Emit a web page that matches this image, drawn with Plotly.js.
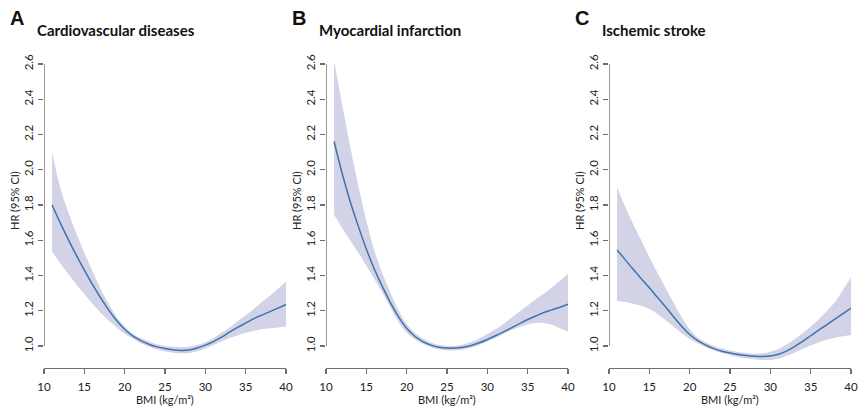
<!DOCTYPE html>
<html>
<head>
<meta charset="utf-8">
<script src="https://cdn.plot.ly/plotly-3.0.1.min.js"></script>
<style>html,body{margin:0;padding:0;background:#fff;}#chart{width:865px;height:415px;}</style>
</head>
<body>
<div id="chart"></div>
<script>
// BMI grid (kg/m²)
const bmi = [11,12,13,14,15,16,17,18,19,20,21,22,23,24,25,26,27,28,29,30,31,32,33,34,35,36,37,38,39,40];

// A: Cardiovascular diseases
const cvdHR    = [1.80,1.70,1.605,1.515,1.43,1.35,1.275,1.205,1.145,1.095,1.057,1.03,1.01,0.995,0.985,0.978,0.975,0.977,0.988,1.005,1.025,1.05,1.078,1.105,1.13,1.155,1.175,1.195,1.215,1.235];
const cvdUpper = [2.10,1.90,1.76,1.64,1.53,1.425,1.325,1.24,1.165,1.11,1.07,1.045,1.025,1.01,1.0,0.995,0.993,0.995,1.005,1.02,1.045,1.075,1.105,1.14,1.175,1.21,1.25,1.285,1.325,1.365];
const cvdLower = [1.536,1.47,1.41,1.35,1.295,1.24,1.19,1.145,1.105,1.07,1.042,1.016,0.996,0.98,0.97,0.962,0.958,0.96,0.97,0.985,1.005,1.025,1.045,1.06,1.075,1.085,1.095,1.10,1.105,1.11];

// B: Myocardial infarction
const miHR    = [2.16,1.98,1.82,1.68,1.55,1.435,1.335,1.245,1.165,1.10,1.055,1.025,1.005,0.993,0.988,0.988,0.993,1.003,1.018,1.037,1.058,1.08,1.103,1.127,1.15,1.17,1.19,1.205,1.22,1.237];
const miUpper = [2.62,2.37,2.13,1.91,1.71,1.54,1.41,1.30,1.20,1.125,1.075,1.042,1.02,1.005,1.0,1.0,1.008,1.022,1.043,1.068,1.095,1.125,1.16,1.195,1.23,1.265,1.297,1.332,1.37,1.41];
const miLower = [1.744,1.67,1.60,1.53,1.455,1.38,1.30,1.215,1.135,1.075,1.038,1.012,0.993,0.98,0.975,0.975,0.98,0.99,1.005,1.025,1.045,1.068,1.09,1.108,1.122,1.13,1.13,1.12,1.10,1.08];

// C: Ischemic stroke
const isHR    = [1.545,1.49,1.435,1.382,1.33,1.276,1.222,1.166,1.112,1.065,1.03,1.005,0.985,0.97,0.96,0.952,0.946,0.942,0.94,0.943,0.953,0.971,0.996,1.026,1.058,1.09,1.12,1.152,1.183,1.215];
const isUpper = [1.90,1.79,1.69,1.60,1.505,1.415,1.33,1.245,1.165,1.095,1.048,1.02,1.0,0.985,0.975,0.966,0.96,0.956,0.958,0.967,0.983,1.008,1.038,1.072,1.11,1.15,1.198,1.25,1.318,1.39];
const isLower = [1.257,1.25,1.24,1.228,1.21,1.182,1.148,1.11,1.072,1.04,1.015,0.993,0.975,0.96,0.948,0.938,0.93,0.925,0.921,0.921,0.928,0.943,0.962,0.983,1.003,1.02,1.035,1.046,1.055,1.062];

const panelLetters = ["A","B","C"];
const panelTitles = ["Cardiovascular diseases","Myocardial infarction","Ischemic stroke"];
const xTicks = [10,15,20,25,30,35,40];
const yTicks = [1.0,1.2,1.4,1.6,1.8,2.0,2.2,2.4,2.6];
const yTickText = ["1.0","1.2","1.4","1.6","1.8","2.0","2.2","2.4","2.6"];
const xTitle = "BMI (kg/m²)";
const yTitle = "HR (95% CI)";

const panels = [
  {hr: cvdHR, up: cvdUpper, lo: cvdLower},
  {hr: miHR, up: miUpper, lo: miLower},
  {hr: isHR, up: isUpper, lo: isLower}
];

const W = 865, H = 415;
const domainsPx = [[44,286],[326,568],[609,851]];
const yDomain = [1 - 368/H, 1 - 64/H];
const bandColor = "rgb(211,211,232)";
const lineColor = "#3f72aa";
const axisColor = "#6e6e6e";
const FONT = "Lato, 'Open Sans', 'DejaVu Sans', sans-serif";

const traces = [];
const layout = {
  width: W, height: H,
  margin: {l:0, r:0, t:0, b:0},
  paper_bgcolor: "#fff", plot_bgcolor: "#fff",
  showlegend: false,
  font: {family: FONT, size: 11, color: "#222"},
  shapes: [], annotations: []
};

panels.forEach((p, i) => {
  const n = i === 0 ? "" : String(i+1);
  const xa = "x" + n, ya = "y" + n;
  traces.push({x: bmi, y: p.lo, xaxis: xa, yaxis: ya, mode: "lines", line: {width: 0, shape: "spline", smoothing: 1}, hoverinfo: "skip"});
  traces.push({x: bmi, y: p.up, xaxis: xa, yaxis: ya, mode: "lines", line: {width: 0, shape: "spline", smoothing: 1}, fill: "tonexty", fillcolor: bandColor, hoverinfo: "skip"});
  traces.push({x: bmi, y: p.hr, xaxis: xa, yaxis: ya, mode: "lines", line: {width: 1.5, color: lineColor, shape: "spline", smoothing: 1}});

  const d = domainsPx[i];
  layout["xaxis" + n] = {
    domain: [d[0]/W, d[1]/W], anchor: ya, range: [10, 40],
    showgrid: false, zeroline: false, showline: true, linecolor: axisColor, linewidth: 1.2,
    ticks: "outside", ticklen: 5, tickcolor: axisColor, tickwidth: 1.2,
    tickvals: xTicks, ticktext: xTicks.map(String), ticklabelstandoff: 3,
    tickfont: {family: FONT, size: 11.5, color: "#222"}
  };
  layout["yaxis" + n] = {
    domain: yDomain, anchor: xa, range: [0.875, 2.6],
    showgrid: false, zeroline: false, showline: false,
    ticks: "outside", ticklen: 5, tickcolor: axisColor, tickwidth: 1.2,
    tickvals: yTicks, ticktext: yTickText, tickangle: -90,
    tickfont: {family: FONT, size: 11.5, color: "#222"}
  };
  layout.shapes.push({type: "line", xref: xa, yref: ya, x0: 10, x1: 10, y0: 1.0, y1: 2.6, line: {color: axisColor, width: 1.4}});

  const cx = (d[0] + d[1]) / 2;
  layout.annotations.push({text: "<b>" + panelLetters[i] + "</b>", xref: "paper", yref: "paper", x: (d[0]-27)/W, y: 1 - 18/H, xanchor: "center", yanchor: "middle", showarrow: false, font: {family: "'Liberation Sans', Arial, sans-serif", size: 20, color: "#111"}});
  layout.annotations.push({text: "<b>" + panelTitles[i] + "</b>", xref: "paper", yref: "paper", x: (d[0]-9)/W, y: 1 - 30/H, xanchor: "left", yanchor: "middle", showarrow: false, font: {family: FONT, size: 15, color: "#111"}});
  layout.annotations.push({text: xTitle, xref: "paper", yref: "paper", x: cx/W, y: 1 - 399/H, xanchor: "center", yanchor: "middle", showarrow: false, font: {family: FONT, size: 11, color: "#222"}});
  layout.annotations.push({text: yTitle, xref: "paper", yref: "paper", x: (d[0]-30)/W, y: 1 - 201/H, xanchor: "center", yanchor: "middle", textangle: -90, showarrow: false, font: {family: FONT, size: 11, color: "#222"}});
});

Plotly.newPlot("chart", traces, layout, {displayModeBar: false, staticPlot: true});
</script>
</body>
</html>
